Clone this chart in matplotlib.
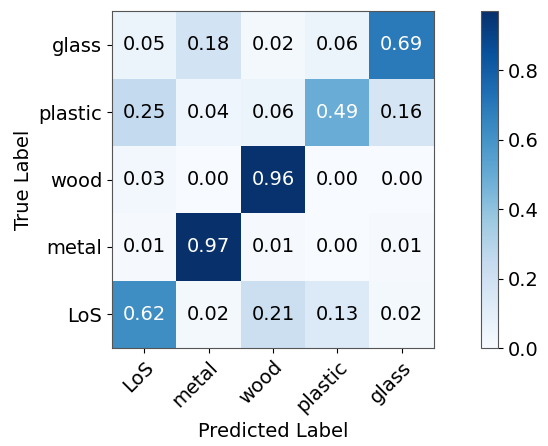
import numpy as np
import matplotlib
matplotlib.use("Agg")
import matplotlib.pyplot as plt

# confusion matrix, rows = true label (bottom to top), cols = predicted label
classes = ["LoS", "metal", "wood", "plastic", "glass"]
cm = np.array([
    [0.62, 0.02, 0.21, 0.13, 0.02],
    [0.01, 0.97, 0.01, 0.00, 0.01],
    [0.03, 0.00, 0.96, 0.00, 0.00],
    [0.25, 0.04, 0.06, 0.49, 0.16],
    [0.05, 0.18, 0.02, 0.06, 0.69],
])

fig = plt.figure(figsize=(5.48, 4.46), dpi=100)
ax = fig.add_axes([112/548, 1 - 348/446, 322/548, 337/446])
cax = fig.add_axes([481/548, 1 - 348/446, 17/548, 337/446])

im = ax.imshow(cm, cmap="Blues", origin="lower", aspect="auto", vmin=0, vmax=cm.max())
cb = fig.colorbar(im, cax=cax)
cb.ax.tick_params(labelsize=14)
cb.outline.set_edgecolor("#555555")

ax.set_xticks(np.arange(len(classes)))
ax.set_yticks(np.arange(len(classes)))
ax.set_xticklabels(classes, rotation=45, ha="right", rotation_mode="anchor", fontsize=14)
ax.set_yticklabels(classes, fontsize=14)
ax.set_xlabel("Predicted Label", fontsize=14)
ax.set_ylabel("True Label", fontsize=14)
for s in ax.spines.values():
    s.set_edgecolor("#555555")

thresh = cm.max() / 2.
for i in range(cm.shape[0]):
    for j in range(cm.shape[1]):
        ax.text(j, i, format(cm[i, j], ".2f"), ha="center", va="center", fontsize=14,
                color="white" if cm[i, j] > thresh else "black")

fig.savefig("out.png", dpi=100)
